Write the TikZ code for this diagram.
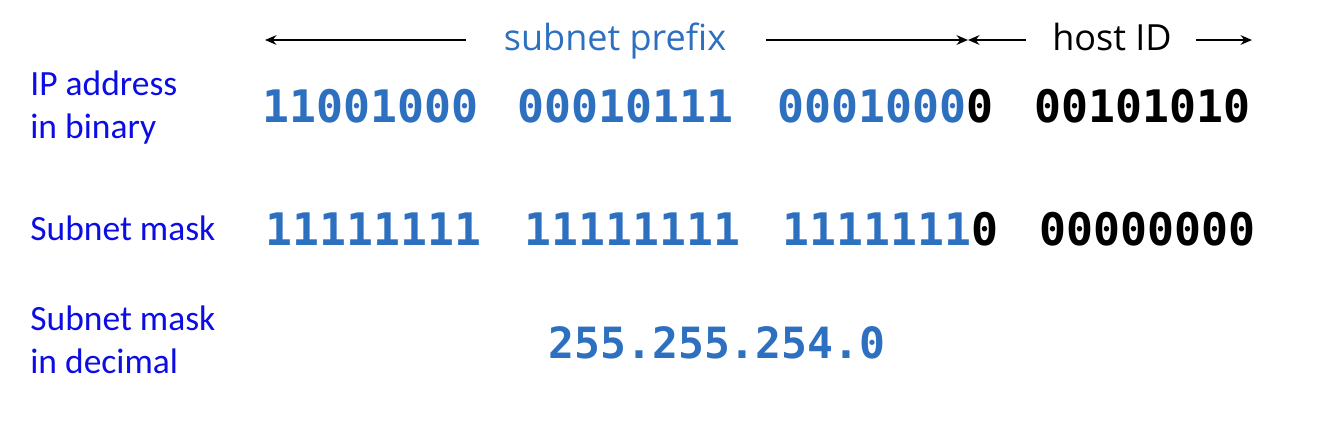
\documentclass[tikz,border=0pt]{standalone}
\usepackage{fontspec}
\setmainfont{Carlito}
\newfontfamily\bitfont{DejaVu Sans Mono}
\newfontfamily\notefont{Open Sans}
\usetikzlibrary{positioning,arrows.meta}
\definecolor{lblblue}{RGB}{12,12,228}
\definecolor{bitblue}{RGB}{46,112,192}
\begin{document}
\begin{tikzpicture}[x=0.02cm,y=-0.02cm, >={Stealth[length=6.5pt,width=5.5pt]}]
      \tikzset{lbl/.style={anchor=base west, inner sep=0, text=lblblue, align=left,
               font=\fontsize{20.2}{24.4}\selectfont},
               bits/.style={anchor=base west, inner sep=0, text=bitblue,
               font=\bitfont\bfseries\fontsize{25.5}{30}\selectfont},
               note/.style={anchor=base, inner sep=0, font=\notefont\fontsize{20.5}{24}\selectfont},
               span/.style={->, line width=1.6pt}}
      \useasboundingbox (0,0) rectangle (1328,440);
      % row labels
      \node [lbl] (lip) at (30,138) {IP address\\in binary};
      \node [lbl] (lmask) at (30,240) {Subnet mask};
      \node [lbl] (ldec) at (30,373) {Subnet mask\\in decimal};
      % address bits
      \node [bits] (ip1) at (262,122) {11001000};
      \node [bits] (ip2) at (517,122) {00010111};
      \node [bits] (ip3) at (777,122) {0001000\textcolor{black}{0}};
      \node [bits, text=black] (ip4) at (1034,122) {00101010};
      % mask bits
      \node [bits] (m1) at (265,245) {11111111};
      \node [bits] (m2) at (524,245) {11111111};
      \node [bits] (m3) at (782,245) {1111111\textcolor{black}{0}};
      \node [bits, text=black] (m4) at (1039,245) {00000000};
      \node [bits, anchor=base, font=\bitfont\bfseries\fontsize{24.5}{30}\selectfont]
            (dec) at (717,358) {255.255.254.0};
      % prefix / host arrows
      \node [note, text=bitblue] (prefix) at (615,50) {subnet prefix};
      \node [note] (hostid) at (1112,50) {host ID};
      \coordinate (pl) at (265,40);
      \coordinate (split) at (968,40);
      \coordinate (hr) at (1252,40);
      \draw [span, shorten <=0.76cm] (prefix.west |- pl) -- (pl);
      \draw [span, shorten <=0.8cm] (prefix.east |- pl) -- (split);
      \draw [span, shorten <=0.52cm] (hostid.west |- split) -- (split);
      \draw [span, shorten <=0.48cm] (hostid.east |- hr) -- (hr);
\end{tikzpicture}
\end{document}
